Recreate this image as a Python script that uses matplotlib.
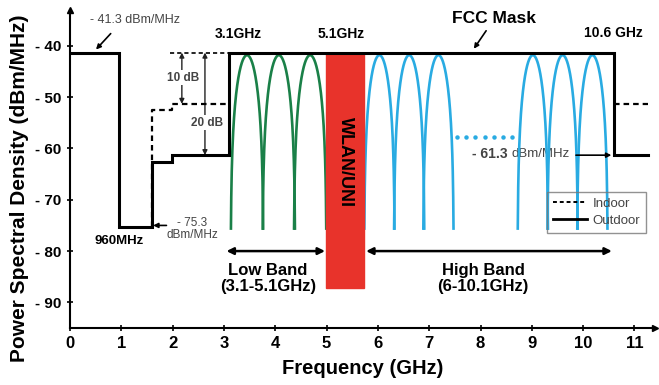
import numpy as np
import matplotlib
matplotlib.use("Agg")
import matplotlib.pyplot as plt
from matplotlib.lines import Line2D
from matplotlib.patches import Rectangle

plt.rcParams['font.family'] = ['Liberation Sans', 'DejaVu Sans']

# FCC mask (GHz, dBm/MHz)
outdoor_f = [0, 0.96, 0.96, 1.6, 1.6, 1.99, 1.99, 3.1, 3.1, 10.6, 10.6, 11.27]
outdoor_p = [-41.3, -41.3, -75.3, -75.3, -62.6, -62.6, -61.3, -61.3, -41.3, -41.3, -61.3, -61.3]
indoor_f = [1.6, 1.6, 1.99, 1.99, 3.1]
indoor_p = [-75.3, -52.5, -52.5, -51.3, -51.3]
indoor_hi_f = [10.6, 11.27]
indoor_hi_p = [-51.3, -51.3]

# sub-band lobes
low_centers = [3.45, 4.07, 4.68]
high_centers = [6.03, 6.61, 7.18, 9.02, 9.60, 10.18]
lobe_peak = -41.8
low_halfwidth = 0.32
high_halfwidth = 0.30

# WLAN/UNI block
wlan_f = [4.99, 5.73]
wlan_p = [-87.2, -41.3]

green = '#1a8048'
blue = '#29abe2'
red = '#e8332b'
grey = '#444444'


def lobe(c, w):
    d = np.linspace(-0.98 * w, 0.98 * w, 200)
    return c + d, lobe_peak + 20 * np.log10(np.abs(np.sinc(d / w)))


fig = plt.figure(figsize=(6.59, 3.85), dpi=100)
ax = fig.add_axes([0.1062, 0.148, 0.8877, 0.826])
ax.set_xlim(0, 11.4)
ax.set_ylim(-95, -33)

for c in low_centers:
    x, y = lobe(c, low_halfwidth)
    ax.plot(x, y, color=green, lw=1.9, zorder=2)
for c in high_centers:
    x, y = lobe(c, high_halfwidth)
    ax.plot(x, y, color=blue, lw=1.9, zorder=2)

ax.add_patch(Rectangle((wlan_f[0], wlan_p[0]), wlan_f[1] - wlan_f[0],
                       wlan_p[1] - wlan_p[0], color=red, zorder=3))
ax.text(np.mean(wlan_f), -62.6, 'WLAN/UNI', rotation=-90, ha='center', va='center',
        fontsize=13, fontweight='bold', zorder=4)

ax.plot(outdoor_f, outdoor_p, color='black', lw=2.2, zorder=5, solid_joinstyle='miter')
ax.plot(indoor_f, indoor_p, color='black', lw=1.6, ls=(0, (2.5, 1.8)), zorder=5)
ax.plot(indoor_hi_f, indoor_hi_p, color='black', lw=1.6, ls=(0, (2.5, 1.8)), zorder=5)

# 10 dB / 20 dB markers
ax.plot([1.95, 3.1], [-41.3, -41.3], color='black', lw=1.2, ls=(0, (2.5, 1.8)), zorder=4)
arr = dict(arrowstyle='<|-|>', color='#222222', lw=1.0, mutation_scale=7, shrinkA=0, shrinkB=0)
ax.annotate('', xy=(2.18, -41.3), xytext=(2.18, -51.3), arrowprops=arr)
ax.annotate('', xy=(2.63, -41.3), xytext=(2.63, -61.3), arrowprops=arr)
box = dict(facecolor='white', edgecolor='none', pad=1)
ax.text(2.2, -46.2, '10 dB', ha='center', va='center', fontsize=8.5, fontweight='bold',
        color=grey, bbox=box)
ax.text(2.67, -55.0, '20 dB', ha='center', va='center', fontsize=8.5, fontweight='bold',
        color=grey, bbox=box)

# labels
ax.text(1.27, -34.9, '- 41.3 dBm/MHz', ha='center', va='center', fontsize=9, color=grey)
ax.annotate('', xy=(0.47, -41.1), xytext=(0.83, -37.2),
            arrowprops=dict(arrowstyle='-|>', color='black', lw=1.2, mutation_scale=7))
ax.text(3.27, -37.7, '3.1GHz', ha='center', va='center', fontsize=10, fontweight='bold')
ax.text(5.28, -37.7, '5.1GHz', ha='center', va='center', fontsize=10, fontweight='bold')
ax.text(8.26, -34.7, 'FCC Mask', ha='center', va='center', fontsize=12.5, fontweight='bold')
ax.annotate('', xy=(7.84, -41.0), xytext=(8.14, -36.6),
            arrowprops=dict(arrowstyle='-|>', color='black', lw=1.2, mutation_scale=7))
ax.text(10.58, -37.5, '10.6 GHz', ha='center', va='center', fontsize=10, fontweight='bold')

ax.text(8.6, -61.0, '- 61.3 ', ha='right', va='center', fontsize=10, fontweight='bold',
        color=grey, zorder=1)
ax.text(8.6, -61.0, 'dBm/MHz', ha='left', va='center', fontsize=9.5, color=grey, zorder=1)
ax.annotate('', xy=(10.55, -61.3), xytext=(9.86, -61.3),
            arrowprops=dict(arrowstyle='-|>', color='black', lw=1.2, mutation_scale=7,
                            shrinkA=0, shrinkB=0))
ax.plot(np.linspace(7.54, 8.62, 7), [-57.7] * 7, ls='none', marker='o', ms=2.2,
        color=blue)

ax.text(2.38, -75.7, '- 75.3\ndBm/MHz', ha='center', va='center', fontsize=8.5,
        color=grey, linespacing=1.1)
ax.annotate('', xy=(1.62, -75.0), xytext=(1.88, -75.0),
            arrowprops=dict(arrowstyle='-|>', color='black', lw=1.2, mutation_scale=7,
                            shrinkA=0, shrinkB=0))
ax.text(0.96, -78.0, '960MHz', ha='center', va='center', fontsize=9.5, fontweight='bold')

band = dict(arrowstyle='<|-|>', color='black', lw=1.8, mutation_scale=10, shrinkA=0, shrinkB=0)
ax.annotate('', xy=(3.05, -80.0), xytext=(4.97, -80.0), arrowprops=band)
ax.annotate('', xy=(5.77, -80.0), xytext=(10.56, -80.0), arrowprops=band)
ax.text(3.86, -85.4, 'Low Band\n(3.1-5.1GHz)', ha='center', va='center', fontsize=12,
        fontweight='bold', linespacing=1.1)
ax.text(8.05, -85.4, 'High Band\n(6-10.1GHz)', ha='center', va='center', fontsize=12,
        fontweight='bold', linespacing=1.1)

# legend
handles = [Line2D([], [], color='black', lw=1.4, ls=(0, (2, 1.5))),
           Line2D([], [], color='black', lw=2.0)]
leg = ax.legend(handles, ['Indoor', 'Outdoor'], loc='upper left',
                bbox_to_anchor=(9.3, -68.4), bbox_transform=ax.transData,
                fontsize=9.5, frameon=True, fancybox=False, handlelength=2.6,
                handletextpad=0.4, borderpad=0.45, labelspacing=0.35, borderaxespad=0)
leg.get_frame().set_edgecolor('#777777')
leg.get_frame().set_facecolor('none')
for t in leg.get_texts():
    t.set_color(grey)

# axes
for s in ['top', 'right']:
    ax.spines[s].set_visible(False)
for s in ['left', 'bottom']:
    ax.spines[s].set_linewidth(1.5)
ax.plot(1, 0, '>k', ms=5, transform=ax.transAxes, clip_on=False)
ax.plot(0, 1, '^k', ms=5, transform=ax.transAxes, clip_on=False)

ax.set_xticks(range(0, 12))
ax.set_xticklabels([str(i) for i in range(0, 12)], fontsize=12, fontweight='bold')
yt = [-40, -50, -60, -70, -80, -90]
ax.set_yticks(yt)
ax.set_yticklabels(['- %d' % -v for v in yt], fontsize=11, fontweight='bold')
ax.tick_params(direction='inout', length=5, width=1.2)
ax.set_xlabel('Frequency (GHz)', fontsize=14.5, fontweight='bold')
ax.set_ylabel('Power Spectral Density (dBm/MHz)', fontsize=15, fontweight='bold')
ax.yaxis.set_label_coords(-0.07, 0.44)
ax.xaxis.set_label_coords(0.5, -0.097)

fig.savefig('out.png', dpi=100)
